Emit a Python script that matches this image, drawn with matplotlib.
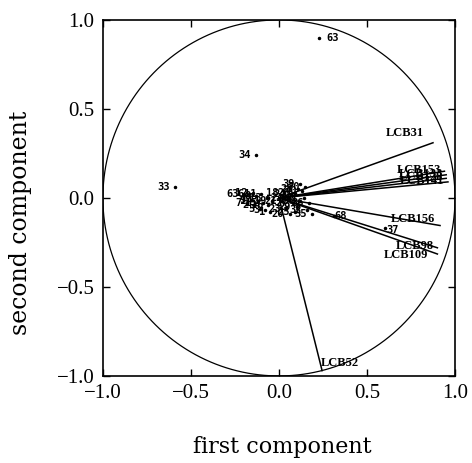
import numpy as np
import matplotlib
matplotlib.use("Agg")
import matplotlib.pyplot as plt

# Loadings (variable vectors)
load_names = ["LCB31", "LCB153", "LCB133", "LCB128", "LCB141", "LCB156", "LCB98", "LCB109", "LCB52"]
load_x = [0.875, 0.94, 0.95, 0.95, 0.96, 0.915, 0.90, 0.90, 0.245]
load_y = [0.31, 0.15, 0.13, 0.11, 0.09, -0.155, -0.28, -0.315, -0.97]

# Scores (observations)
score_labels = ["63", "34", "33", "63", "37", "68",
                "6", "12", "8", "9", "14", "11", "2", "15", "5", "3", "16", "19", "1", "7", "13",
                "21", "22", "24", "26", "28", "40", "27", "29", "30", "41", "70", "23", "25",
                "32", "35", "20", "36", "18", "39"]
score_x = [0.23, -0.13, -0.59, -0.20, 0.60, 0.31,
           -0.17, -0.15, -0.13, -0.16, -0.12, -0.10, -0.14, -0.09, -0.11, -0.08, -0.06, -0.04, -0.05, -0.18, -0.07,
           0.02, 0.05, 0.07, 0.09, 0.11, 0.13, 0.08, 0.10, 0.12, 0.14, 0.15, 0.04, 0.09,
           0.16, 0.19, 0.06, 0.17, 0.03, 0.12]
score_y = [0.90, 0.24, 0.06, 0.02, -0.17, -0.10,
           0.02, 0.03, 0.01, -0.01, -0.02, 0.02, -0.04, -0.03, -0.06, -0.07, -0.04, -0.02, -0.08, -0.03, 0.00,
           -0.02, 0.00, 0.02, 0.03, 0.05, 0.04, -0.03, -0.05, -0.02, 0.00, 0.06, -0.06, -0.08,
           -0.07, -0.09, -0.09, -0.03, 0.03, 0.08]

xticks = [-1.0, -0.5, 0.0, 0.5, 1.0]
yticks = [-1.0, -0.5, 0.0, 0.5, 1.0]

fig = plt.figure(figsize=(4.72, 4.63), dpi=100)
ax = fig.add_axes([0.218, 0.188, 0.746, 0.769])
ax.set_xlim(-1, 1)
ax.set_ylim(-1, 1)

t = np.linspace(0, 2 * np.pi, 400)
ax.plot(np.cos(t), np.sin(t), color="black", lw=0.9)

for n, x, y in zip(load_names, load_x, load_y):
    ax.plot([0, x], [0, y], color="black", lw=1.1)

label_font = dict(family="Liberation Serif", fontsize=9, fontweight="bold")
for n, x, y in zip(load_names, load_x, load_y):
    if n == "LCB52":
        ax.text(x - 0.01, y + 0.01, n, ha="left", va="bottom", **label_font)
    elif n == "LCB31":
        ax.text(x - 0.05, y + 0.02, n, ha="right", va="bottom", **label_font)
    elif n == "LCB109":
        ax.text(x - 0.05, y - 0.005, n, ha="right", va="center", **label_font)
    elif n == "LCB98":
        ax.text(x - 0.02, y + 0.01, n, ha="right", va="center", **label_font)
    elif n == "LCB156":
        ax.text(x - 0.03, y + 0.005, n, ha="right", va="bottom", **label_font)
    else:
        ax.text(x - 0.02, y + 0.005, n, ha="right", va="center", **label_font)

pt_font = dict(family="DejaVu Sans Mono", fontsize=7.5, fontweight="bold")
for lab, x, y in zip(score_labels, score_x, score_y):
    ax.plot([x], [y], marker="o", ms=1.5, color="black", ls="none")
    if lab == "63" and y > 0.5:
        ax.text(x + 0.04, y, lab, ha="left", va="center", **pt_font)
    elif lab == "37":
        ax.text(x + 0.01, y - 0.01, lab, ha="left", va="center", **pt_font)
    elif lab == "68":
        ax.text(x + 0.005, y, lab, ha="left", va="center", **pt_font)
    else:
        ax.text(x - 0.03, y, lab, ha="right", va="center", **pt_font)

ax.set_xticks(xticks)
ax.set_yticks(yticks)
ax.set_xticklabels([f"{v:.1f}".replace("-", "\u2212") for v in xticks], family="Liberation Serif", fontsize=15)
ax.set_yticklabels([f"{v:.1f}".replace("-", "\u2212") for v in yticks], family="Liberation Serif", fontsize=15)
ax.tick_params(direction="in", length=5, width=1, top=True, right=True, pad=6)
for s in ax.spines.values():
    s.set_linewidth(1.2)

ax.set_xlabel("first component", family="DejaVu Serif", fontsize=16)
ax.set_ylabel("second component", family="DejaVu Serif", fontsize=17)
ax.xaxis.set_label_coords(0.51, -0.17)
ax.yaxis.set_label_coords(-0.20, 0.43)

fig.savefig("out.png", dpi=100)
